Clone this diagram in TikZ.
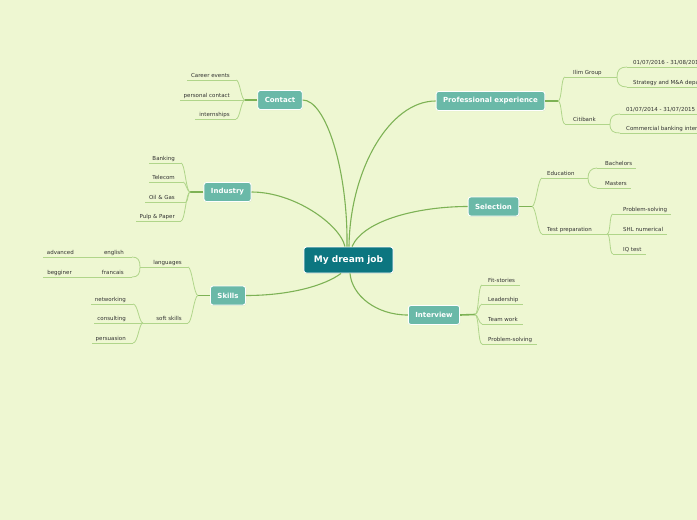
\documentclass[tikz,border=0pt]{standalone}
\usepackage{fontspec}
\setmainfont{DejaVu Sans}
\usetikzlibrary{shadows}
\definecolor{bg}{RGB}{238,247,210}
\definecolor{cTopic}{RGB}{106,185,168}
\definecolor{cCenter}{RGB}{12,118,128}
\definecolor{cMain}{RGB}{125,178,85}
\definecolor{cSub}{RGB}{176,213,138}
\definecolor{cText}{RGB}{50,50,50}
\newcommand\LeafL[6]{%
  \node[leaf,anchor=base east] (#1) at (#2,#3-3) {#6};
  \coordinate (#1-l) at (#4,#3);
  \coordinate (#1-r) at (#5,#3);
  \draw[subconn] (#1-l) -- (#1-r);
}
\newcommand\LeafR[6]{%
  \node[leaf,anchor=base west] (#1) at (#2,#3-3) {#6};
  \coordinate (#1-l) at (#4,#3);
  \coordinate (#1-r) at (#5,#3);
  \draw[subconn] (#1-l) -- (#1-r);
}
\begin{document}
\begin{tikzpicture}[x=1pt,y=-1pt,
  topic/.style={draw=white, line width=0.9pt, fill=cTopic, rounded corners=2.5pt,
    text=white, font=\bfseries\fontsize{7}{8}\selectfont, inner xsep=7pt,
    minimum height=19pt, drop shadow={shadow xshift=0.5pt, shadow yshift=-0.7pt, opacity=0.18}},
  centertopic/.style={topic, fill=cCenter, font=\bfseries\fontsize{9}{10}\selectfont,
    inner xsep=10pt, minimum height=26pt},
  leaf/.style={text=cText, font=\fontsize{5.5}{6.5}\selectfont, inner sep=0pt},
  mainconn/.style={draw=cMain, line width=1.1pt},
  stemconn/.style={draw=cMain, line width=1.6pt},
  subconn/.style={draw=cSub, line width=0.8pt}]
\useasboundingbox (0,0) rectangle (697,520);
\fill[bg] (0,0) rectangle (697,520);
\clip (0,0) rectangle (697,520);

% main topics
\node[centertopic] (central) at (348.5,260) {My dream job};
\node[topic] (contact) at (280,100) {Contact};
\node[topic] (ind) at (227.5,192) {Industry};
\node[topic] (skills) at (228,295.5) {Skills};
\node[topic] (pe) at (490.5,101) {Professional experience};
\node[topic] (sel) at (493.5,206.5) {Selection};
\node[topic] (intv) at (434,315) {Interview};

% main connectors
\draw[mainconn] (contact.east) .. controls +(23,0) and +(1,-77) .. ([xshift=-1.5pt]central.north);
\draw[mainconn] (pe.west) .. controls +(-46,0) and +(1,-77) .. ([xshift=0.5pt]central.north);
\draw[mainconn] (ind.east) .. controls +(43,0) and +(-5,-22) .. ([xshift=-3.5pt]central.north);
\draw[mainconn] (sel.west) .. controls +(-48,0) and +(12,-27) .. ([xshift=3.5pt]central.north);
\draw[mainconn] (skills.east) .. controls +(44,0) and +(-16,12) .. ([xshift=-7.5pt]central.south);
\draw[mainconn] (intv.west) .. controls +(-32,0) and +(2,22) .. ([xshift=1.5pt]central.south);

% Contact
\coordinate (cJ) at (245,100);
\draw[stemconn] (contact.west) -- (cJ);
\LeafL{ce}{230}{80}{187}{236}{Career events}
\LeafL{pc}{230}{100}{180}{236}{personal contact}
\LeafL{intern}{230}{119}{195}{236}{internships}
\draw[subconn] (cJ) .. controls +(-4,0) and +(4,0) .. (ce-r);
\draw[subconn] (cJ) -- (pc-r);
\draw[subconn] (cJ) .. controls +(-4,0) and +(4,0) .. (intern-r);

% Industry
\coordinate (iJ) at (190,192);
\draw[stemconn] (ind.west) -- (iJ);
\LeafL{bank}{175}{163}{149}{181}{Banking}
\LeafL{tel}{175}{182}{149}{183}{Telecom}
\LeafL{oil}{175}{202}{145}{186}{Oil \& Gas}
\LeafL{pulp}{175}{221}{136}{181}{Pulp \& Paper}
\draw[subconn] (iJ) .. controls +(-4,0) and +(4,0) .. (bank-r);
\draw[subconn] (iJ) .. controls +(-3,0) and +(3,0) .. (tel-r);
\draw[subconn] (iJ) .. controls +(-2,0) and +(2,0) .. (oil-r);
\draw[subconn] (iJ) .. controls +(-4,0) and +(4,0) .. (pulp-r);

% Skills
\coordinate (sJ) at (198,295.5);
\draw[stemconn] (skills.west) -- (sJ);
\LeafL{lang}{182}{267}{140}{188}{languages}
\LeafL{soft}{182}{323}{143}{188}{soft skills}
\draw[subconn] (sJ) .. controls +(-4,0) and +(4,0) .. (lang-r);
\draw[subconn] (sJ) .. controls +(-4,0) and +(4,0) .. (soft-r);
\LeafL{eng}{124}{257}{98}{132}{english}
\LeafL{fr}{124}{277}{98}{132}{francais}
\LeafL{adv}{74}{257}{43}{98}{advanced}
\LeafL{beg}{72}{277}{43}{98}{begginer}
\draw[subconn] (lang-l) .. controls +(0,-7) and +(6,0) .. (eng-r);
\draw[subconn] (lang-l) .. controls +(0,7) and +(6,0) .. (fr-r);
\LeafL{net}{126}{304}{91}{133}{networking}
\LeafL{cons}{126}{323}{94}{143}{consulting}
\LeafL{pers}{126}{343}{92}{133}{persuasion}
\draw[subconn] (soft-l) .. controls +(-4,0) and +(5,0) .. (net-r);
\draw[subconn] (soft-l) .. controls +(-4,0) and +(5,0) .. (pers-r);

% Professional experience
\coordinate (pJ) at (558,101);
\draw[stemconn] (pe.east) -- (pJ);
\LeafR{ilim}{573}{77}{565}{617}{Ilim Group}
\LeafR{citi}{573}{124}{565}{610}{Citibank}
\draw[subconn] (pJ) .. controls +(4,0) and +(-4,0) .. (ilim-l);
\draw[subconn] (pJ) .. controls +(4,0) and +(-4,0) .. (citi-l);
\LeafR{da}{633}{67}{627}{700}{01/07/2016 - 31/08/2016}
\LeafR{sa}{633}{87}{627}{700}{Strategy and M\&A department}
\LeafR{db}{626}{114}{620}{700}{01/07/2014 - 31/07/2015}
\LeafR{sb}{626}{133}{620}{700}{Commercial banking intern}
\draw[subconn] (ilim-r) .. controls +(0,-7) and +(-7,0) .. (da-l);
\draw[subconn] (ilim-r) .. controls +(0,7) and +(-7,0) .. (sa-l);
\draw[subconn] (citi-r) .. controls +(0,-7) and +(-7,0) .. (db-l);
\draw[subconn] (citi-r) .. controls +(0,7) and +(-7,0) .. (sb-l);

% Selection
\coordinate (selJ) at (532,206.5);
\draw[stemconn] (sel.east) -- (selJ);
\LeafR{edu}{547}{178}{542}{588}{Education}
\LeafR{testp}{547}{234}{542}{607}{Test preparation}
\draw[subconn] (selJ) .. controls +(4,0) and +(-4,0) .. (edu-l);
\draw[subconn] (selJ) .. controls +(4,0) and +(-4,0) .. (testp-l);
\LeafR{bach}{605}{168}{597}{636}{Bachelors}
\LeafR{mast}{605}{188}{597}{631}{Masters}
\draw[subconn] (edu-r) .. controls +(0,-6) and +(-6,0) .. (bach-l);
\draw[subconn] (edu-r) .. controls +(0,6) and +(-6,0) .. (mast-l);
\LeafR{psa}{623}{214}{613}{671}{Problem-solving}
\LeafR{shl}{623}{234}{613}{667}{SHL numerical}
\LeafR{iq}{623}{254}{613}{646}{IQ test}
\draw[subconn] (testp-r) .. controls +(4,0) and +(-4,0) .. (psa-l);
\draw[subconn] (testp-r) -- (shl-l);
\draw[subconn] (testp-r) .. controls +(4,0) and +(-4,0) .. (iq-l);

% Interview
\coordinate (intJ) at (475,314.5);
\draw[stemconn] (intv.east) -- (intJ);
\LeafR{fit}{488}{285}{482}{520}{Fit-stories}
\LeafR{lead}{488}{304}{482}{523}{Leadership}
\LeafR{team}{488}{324}{482}{523}{Team work}
\LeafR{psb}{488}{344}{482}{537}{Problem-solving}
\draw[subconn] (intJ) .. controls +(4,0) and +(-4,0) .. (fit-l);
\draw[subconn] (intJ) .. controls +(3,0) and +(-3,0) .. (lead-l);
\draw[subconn] (intJ) .. controls +(3,0) and +(-3,0) .. (team-l);
\draw[subconn] (intJ) .. controls +(4,0) and +(-4,0) .. (psb-l);
\end{tikzpicture}
\end{document}
